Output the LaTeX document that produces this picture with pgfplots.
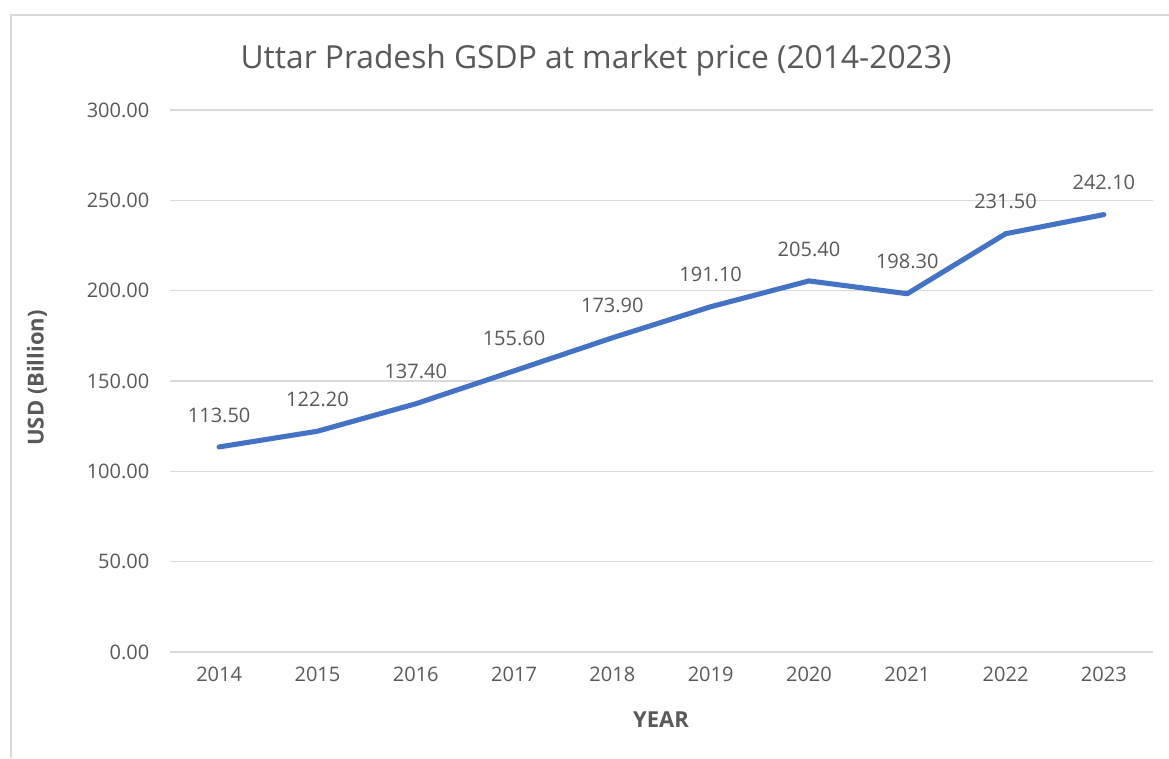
\documentclass[border=0pt]{standalone}
\usepackage{pgfplots}
\pgfplotsset{compat=1.18}
\usepackage{fontspec}
\setmainfont{Open Sans}
\definecolor{txtc}{HTML}{595959}
\definecolor{gridc}{HTML}{D9D9D9}
\definecolor{linec}{HTML}{4472C4}
\begin{document}
\begin{tikzpicture}[x=0.75pt,y=0.75pt]
\path[use as bounding box, fill=white] (0,0) rectangle (1169,758);
\draw[gridc, line width=1.5pt] (11,0) -- (11,743) -- (1169,743);
\begin{axis}[
  at={(127.5pt,79.5pt)}, anchor=south west,
  scale only axis, width=737.25pt, height=406.5pt,
  xmin=-0.5, xmax=9.5, ymin=0, ymax=300,
  xtick={0,...,9},
  xticklabels={2014,2015,2016,2017,2018,2019,2020,2021,2022,2023},
  ytick={0,50,...,300},
  yticklabel style={/pgf/number format/fixed, /pgf/number format/fixed zerofill, /pgf/number format/precision=2, xshift=-12pt},
  /pgf/number format/assume math mode=true,
  ymajorgrids, xmajorgrids=false,
  grid style={draw=gridc, line width=1pt},
  axis line style={draw=none},
  xtick style={draw=none}, ytick style={draw=none},
  major tick length=0pt,
  tick label style={font=\fontsize{15}{18}\selectfont, text=txtc},
  xticklabel style={yshift=-8pt},
  clip=false,
]
\addplot[linec, line width=3.8pt, line join=round, line cap=round,
  nodes near coords,
  every node near coord/.append style={/pgf/number format/fixed, /pgf/number format/fixed zerofill, /pgf/number format/precision=2, anchor=center, yshift=24pt, font=\fontsize{15}{18}\selectfont, text=txtc},
] coordinates {
(0,113.5) (1,122.2) (2,137.4) (3,155.6) (4,173.9) (5,191.1) (6,205.4) (7,198.3) (8,231.5) (9,242.1)
};
\end{axis}
\node[text=txtc, font=\fontsize{23.8}{28}\selectfont] at (596,698) {Uttar Pradesh GSDP at market price (2014-2023)};
\node[text=txtc, font=\fontsize{16.5}{18}\selectfont\bfseries, rotate=90] at (37,380) {USD (Billion)};
\node[text=txtc, font=\fontsize{16.5}{18}\selectfont\bfseries] at (661,38) {YEAR};
\end{tikzpicture}
\end{document}
